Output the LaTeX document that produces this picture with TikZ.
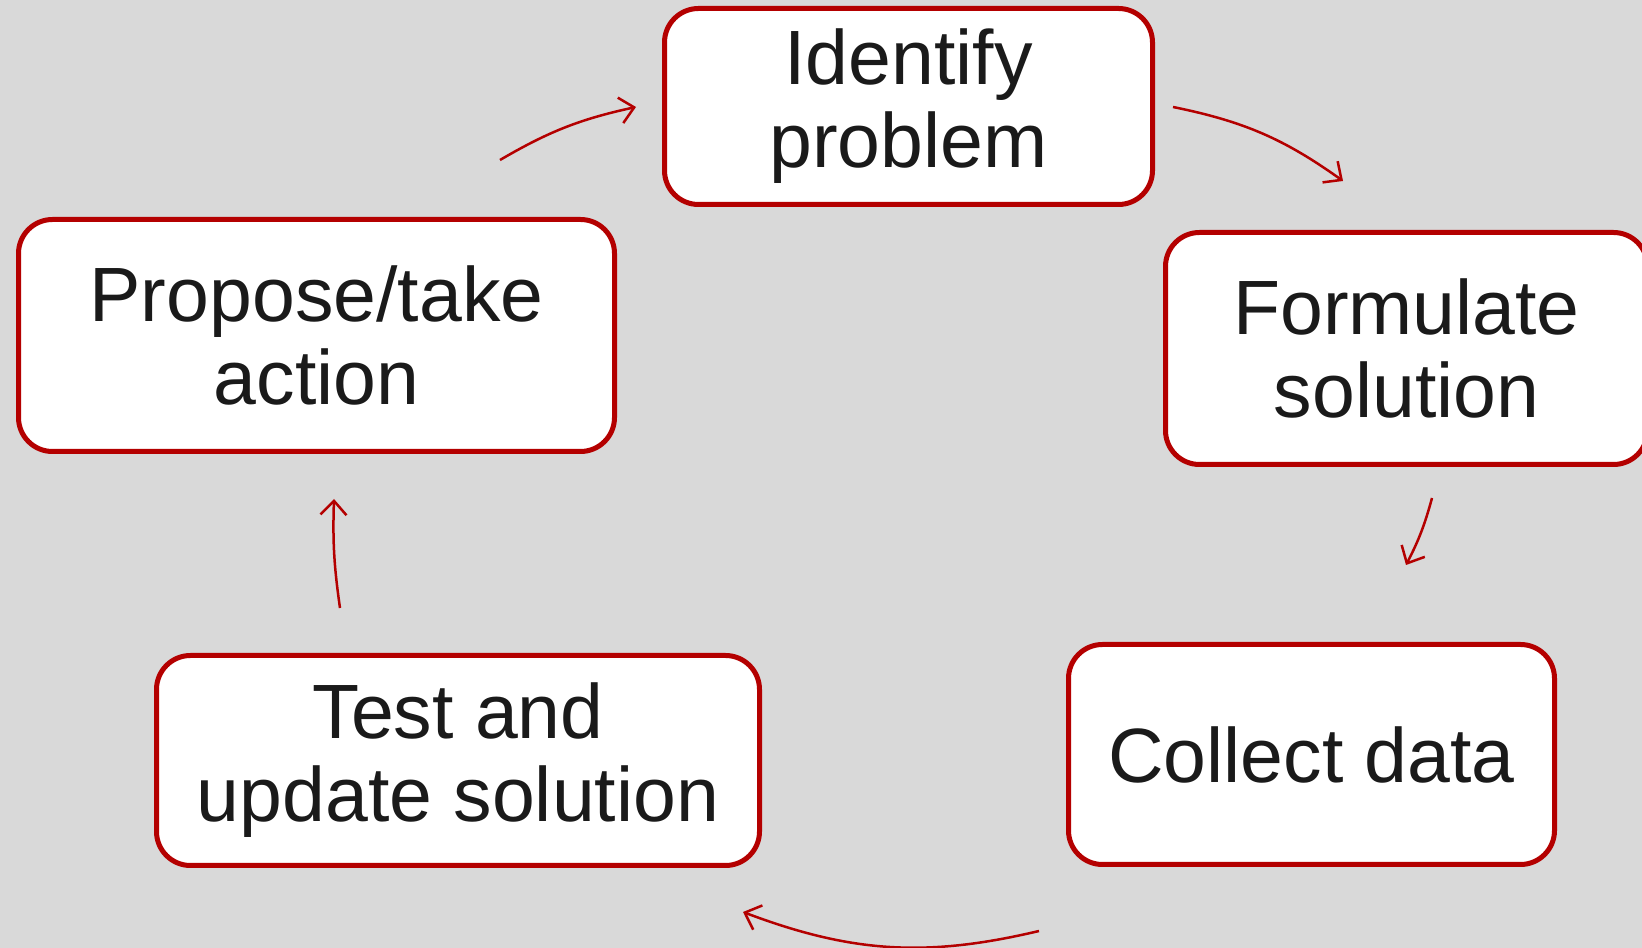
\documentclass[tikz,border=0pt]{standalone}
\usepackage{fontspec}
\setmainfont{Liberation Sans}
\usepackage{xcolor}
\usepackage{tikz}
\usetikzlibrary{arrows.meta}
\definecolor{bg}{HTML}{D9D9D9}
\definecolor{boxred}{HTML}{B40000}
\definecolor{ink}{HTML}{1A1A1A}
\tikzset{
  stage/.style={rectangle, rounded corners=34pt, draw=boxred, line width=5pt, fill=white,
    text=ink, align=center, inner sep=0pt,
    font=\fontsize{77}{83}\selectfont},
  cyc/.style={draw=boxred, line width=2.5pt, -{Straight Barb[length=14pt, width=26pt]}}
}
\begin{document}
\begin{tikzpicture}[x=1pt, y=1pt]
        \fill[bg] (0, 0) rectangle (1642, 948);
        \useasboundingbox (0, 0) rectangle (1642, 948);
        \node (ident) at (908.5, 841.5) [stage, minimum width=488pt, minimum height=196pt] {Identify\\problem};
        \node (formul) at (1406.5, 599.5) [stage, minimum width=482pt, minimum height=232pt] {Formulate\\solution};
        \node (collect) at (1311.5, 193.5) [stage, minimum width=486pt, minimum height=220pt] {Collect data};
        \node (test) at (458, 187.5) [stage, minimum width=603pt, minimum height=210pt] {Test and\\update solution};
        \node (propose) at (316.5, 612.5) [stage, minimum width=596pt, minimum height=232pt] {Propose/take\\action};
        \coordinate (p2i) at (500, 788);
        \coordinate (i2p) at (636, 841);
        \coordinate (i2f) at (1173, 841);
        \coordinate (f2i) at (1343, 767);
        \coordinate (f2c) at (1432, 450);
        \coordinate (c2f) at (1406, 383);
        \coordinate (c2t) at (1039, 17);
        \coordinate (t2c) at (743, 36);
        \coordinate (t2p) at (340, 340);
        \coordinate (p2t) at (334, 449);
        \draw [cyc] (p2i) to[bend left=9] (i2p);
        \draw [cyc] (i2f) to[bend left=12] (f2i);
        \draw [cyc] (f2c) to[bend left=6] (c2f);
        \draw [cyc] (c2t) to[bend left=17] (t2c);
        \draw [cyc] (t2p) to[bend left=5] (p2t);
    \end{tikzpicture}
\end{document}
